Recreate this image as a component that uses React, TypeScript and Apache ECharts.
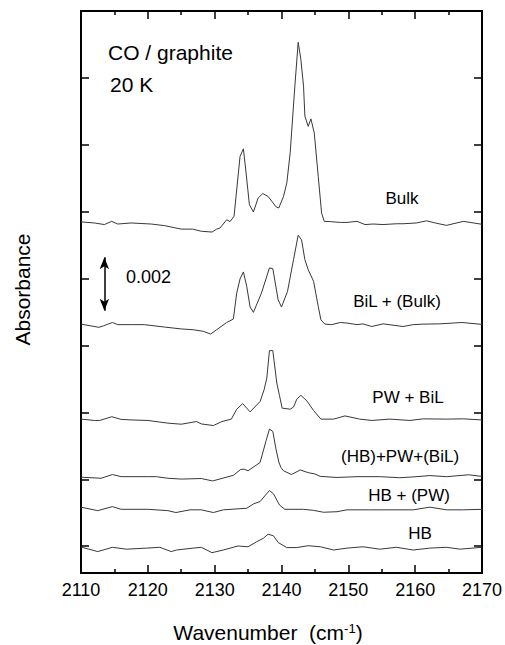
import React, { useEffect, useRef } from "react";
import * as echarts from "echarts";

const FONT = "'Liberation Sans', Arial, Helvetica, sans-serif";

// x axis: wavenumber (cm^-1); y axis: absorbance in units of 0.001 (spectra offset vertically)
const xTicks = [2110, 2120, 2130, 2140, 2150, 2160, 2170];
const yTickValues = [0, 2.5, 5, 7.5, 10, 12.5, 15, 17.5];

const bulk: [number, number][] = [
  [2110, 12.12], [2112, 12.08], [2113.5, 12.02], [2114.6, 12.14], [2115.5, 12.04], [2117.5, 12.08],
  [2120.5, 12.04], [2122.5, 11.98], [2125, 11.85], [2126.7, 11.85], [2128, 11.77], [2129.6, 11.74],
  [2130.3, 11.85], [2130.8, 11.89], [2131.8, 12.2], [2132.3, 12.13], [2132.9, 12.33], [2133.8, 14.57],
  [2134.3, 14.85], [2134.7, 13.95], [2135.2, 12.76], [2135.8, 12.49], [2136.5, 13.01], [2137.2, 13.18],
  [2138.0, 13.07], [2139.2, 12.68], [2139.6, 12.64], [2140.3, 13.07], [2140.8, 13.58], [2141.3, 14.7],
  [2142.0, 17.19], [2142.5, 18.83], [2142.9, 18.19], [2143.3, 17.19], [2143.5, 16.07], [2144.0, 15.69],
  [2144.4, 15.97], [2144.9, 15.45], [2145.5, 13.82], [2146.0, 12.45], [2146.4, 12.14], [2147.3, 12.13],
  [2148.8, 12.1], [2149.8, 12.1], [2151.3, 12.14], [2152.5, 12.02], [2153.7, 12.04], [2155.2, 12.02],
  [2157.2, 12.05], [2158.2, 12.05], [2160.2, 12.08], [2161.7, 12.16], [2163, 12.08], [2164.7, 11.99],
  [2167.2, 12.14], [2170, 12.03],
];

const bilBulk: [number, number][] = [
  [2110, 8.3], [2112.7, 8.18], [2113.4, 8.24], [2114.7, 8.36], [2115.5, 8.28], [2117.5, 8.28],
  [2119.5, 8.28], [2122.5, 8.19], [2125, 8.12], [2126.8, 8.09], [2128.3, 8.03], [2129.4, 7.93],
  [2130.3, 8.09], [2131.8, 8.36], [2132.8, 8.49], [2133.3, 9.46], [2133.8, 9.99], [2134.3, 10.25],
  [2134.8, 9.71], [2135.3, 8.94], [2135.8, 8.74], [2137.0, 9.46], [2138.2, 10.4], [2138.7, 10.37],
  [2139.5, 9.21], [2140.0, 8.94], [2140.9, 9.52], [2141.8, 10.71], [2142.5, 11.62], [2143.0, 11.45],
  [2143.5, 10.71], [2144.0, 10.33], [2144.8, 9.9], [2145.5, 8.96], [2145.9, 8.46], [2146.5, 8.3],
  [2147.5, 8.28], [2148.8, 8.36], [2149.8, 8.34], [2151.3, 8.28], [2152.2, 8.31], [2153.5, 8.21],
  [2155.2, 8.31], [2158.2, 8.21], [2159.7, 8.28], [2161.2, 8.3], [2163.7, 8.31], [2167, 8.36],
  [2170, 8.29],
];

const pwBil: [number, number][] = [
  [2110, 4.75], [2112, 4.7], [2112.8, 4.7], [2114.6, 4.84], [2116, 4.74], [2117.5, 4.72],
  [2120, 4.7], [2123, 4.6], [2125, 4.56], [2127.3, 4.66], [2128, 4.57], [2129.8, 4.51],
  [2131.1, 4.66], [2132.5, 4.75], [2133.3, 5.12], [2134.2, 5.33], [2135.3, 5.02], [2136.8, 5.41],
  [2137.4, 5.85], [2137.8, 6.28], [2138.2, 7.31], [2138.7, 7.31], [2139.3, 6.1], [2139.7, 5.63],
  [2140.1, 5.16], [2141.3, 5.12], [2141.8, 5.2], [2142.3, 5.5], [2142.9, 5.64], [2143.8, 5.43],
  [2144.8, 5.07], [2145.9, 4.75], [2147.8, 4.75], [2149.5, 4.87], [2151.7, 4.75], [2153.5, 4.7],
  [2156.2, 4.75], [2159.2, 4.7], [2161.2, 4.76], [2164.7, 4.75], [2167.2, 4.76], [2170, 4.72],
];

const hbPwBil: [number, number][] = [
  [2110, 2.58], [2113, 2.54], [2114.7, 2.68], [2116, 2.6], [2120, 2.6], [2121.3, 2.6],
  [2123, 2.54], [2125, 2.51], [2128, 2.53], [2129.7, 2.44], [2132.8, 2.65], [2133.9, 2.87],
  [2134.4, 2.88], [2135.0, 2.82], [2136.8, 3.13], [2137.7, 3.95], [2138.2, 4.38], [2138.7, 4.29],
  [2139.2, 3.6], [2139.6, 3.15], [2139.9, 2.95], [2140.3, 2.82], [2141.5, 2.68], [2142.8, 2.85],
  [2144.0, 2.75], [2145.0, 2.7], [2145.8, 2.61], [2148.3, 2.57], [2151.3, 2.6], [2154.7, 2.6],
  [2157.7, 2.56], [2159.7, 2.59], [2162.2, 2.64], [2164.7, 2.6], [2168, 2.67], [2170, 2.61],
];

const hbPw: [number, number][] = [
  [2110, 1.46], [2112.5, 1.33], [2114.7, 1.48], [2116, 1.38], [2120, 1.38], [2123, 1.33],
  [2124.2, 1.26], [2126.3, 1.36], [2128, 1.36], [2129.8, 1.26], [2131.3, 1.36], [2134.8, 1.42],
  [2135.8, 1.58], [2136.8, 1.67], [2137.5, 1.88], [2138.2, 2.08], [2138.8, 1.96], [2139.7, 1.54],
  [2140.5, 1.38], [2143.3, 1.38], [2144.8, 1.34], [2146.3, 1.27], [2148.3, 1.29], [2149.8, 1.36],
  [2153.2, 1.36], [2159.7, 1.36], [2162.2, 1.46], [2164.7, 1.36], [2167.2, 1.36], [2170, 1.38],
];

const hb: [number, number][] = [
  [2110, -0.03], [2112.5, -0.2], [2114.7, -0.04], [2116.8, -0.11], [2119.8, -0.07], [2121.8, -0.04],
  [2123.5, -0.2], [2124.3, -0.14], [2126.8, -0.07], [2128, -0.04], [2129.6, -0.24], [2131.3, -0.14],
  [2133.5, 0.01], [2135, -0.02], [2136.3, 0.17], [2137.3, 0.3], [2138.0, 0.45], [2138.8, 0.39],
  [2139.5, 0.14], [2140.8, -0.05], [2142.3, -0.05], [2144.0, 0.02], [2145.8, -0.02], [2147.8, -0.14],
  [2149.8, -0.07], [2152.2, -0.02], [2154.7, -0.11], [2157.2, -0.04], [2159.7, -0.14], [2162.2, -0.07],
  [2164.7, -0.04], [2166.7, -0.11], [2170, -0.04],
];

const seriesNames = ["Bulk", "BiL + (Bulk)", "PW + BiL", "(HB)+PW+(BiL)", "HB + (PW)", "HB"];
const seriesData = [bulk, bilBulk, pwBil, hbPwBil, hbPw, hb];

// scale bar: 0.002 absorbance = 2 units
const scaleBarX = 2113.5;
const scaleBarFrom = 8.8;
const scaleBarTo = 10.8;

export default function App() {
  const ref = useRef<HTMLDivElement>(null);
  useEffect(() => {
    if (!ref.current) return;
    const chart = echarts.init(ref.current, null, { renderer: "svg" });
    const axisCommon = {
      type: "value" as const,
      axisLine: { show: true, onZero: false, lineStyle: { color: "#000", width: 2 } },
      splitLine: { show: false },
    };
    const xCommon = {
      ...axisCommon,
      min: xTicks[0],
      max: xTicks[xTicks.length - 1],
      interval: 10,
      axisTick: { show: true, inside: true, length: 8, lineStyle: { color: "#000", width: 1.5 } },
      minorTick: { show: true, splitNumber: 2, length: 4, lineStyle: { color: "#000", width: 1.5 } },
      minorSplitLine: { show: false },
    };
    const yCommon = {
      ...axisCommon,
      min: -1,
      max: 20,
      axisTick: {
        show: true,
        inside: true,
        length: 8,
        customValues: yTickValues,
        lineStyle: { color: "#000", width: 1.5 },
      },
      axisLabel: { show: false },
    };
    const series: any[] = seriesData.map((d, i) => ({
      type: "line",
      name: seriesNames[i],
      data: d,
      symbol: "none",
      showSymbol: false,
      silent: true,
      lineStyle: { color: "#383838", width: 1 },
      xAxisIndex: 0,
      yAxisIndex: 0,
    }));
    series[0].markLine = {
      silent: true,
      symbol: ["arrow", "arrow"],
      symbolSize: [7, 12],
      label: { show: false },
      lineStyle: { color: "#000", width: 1.5, type: "solid" },
      data: [[{ coord: [scaleBarX, scaleBarFrom] }, { coord: [scaleBarX, scaleBarTo] }]],
    };
    const labelPos = [
      [402, 198],
      [397, 301],
      [408, 397],
      [400, 456],
      [409, 495],
      [420, 533],
    ];
    const graphic: any[] = seriesNames.map((n, i) => ({
      type: "text",
      x: labelPos[i][0],
      y: labelPos[i][1],
      style: { text: n, font: `17px ${FONT}`, fill: "#000", align: "center", verticalAlign: "middle" },
    }));
    graphic.push(
      { type: "text", x: 108, y: 52, style: { text: "CO / graphite", font: `21px ${FONT}`, fill: "#000", align: "left", verticalAlign: "middle" } },
      { type: "text", x: 110, y: 84, style: { text: "20 K", font: `21px ${FONT}`, fill: "#000", align: "left", verticalAlign: "middle" } },
      { type: "text", x: 126, y: 277, style: { text: "0.002", font: `18px ${FONT}`, fill: "#000", align: "left", verticalAlign: "middle" } },
      {
        type: "text",
        x: 22.5,
        y: 289.5,
        rotation: Math.PI / 2,
        style: { text: "Absorbance", font: `21px ${FONT}`, fill: "#000", align: "center", verticalAlign: "middle" },
      },
      {
        type: "text",
        x: 268,
        y: 632,
        style: {
          text: "{a|Wavenumber  (cm}{s|-1}{a|)}",
          align: "center",
          verticalAlign: "middle",
          rich: {
            a: { fontSize: 21, fontFamily: FONT, fill: "#000", verticalAlign: "bottom" },
            s: { fontSize: 13, fontFamily: FONT, fill: "#000", verticalAlign: "top" },
          },
        },
      }
    );
    chart.setOption({
      animation: false,
      grid: { left: 81, top: 11, right: 23, bottom: 72, containLabel: false },
      xAxis: [
        {
          ...xCommon,
          position: "bottom",
          axisLabel: {
            show: true,
            fontSize: 18,
            color: "#000",
            fontFamily: FONT,
            margin: 8,
            formatter: (v: number) => String(v),
          },
        },
        { ...xCommon, position: "top", axisLabel: { show: false } },
      ],
      yAxis: [
        { ...yCommon, position: "left" },
        { ...yCommon, position: "right" },
      ],
      series,
      graphic,
    });
    return () => chart.dispose();
  }, []);
  return <div ref={ref} style={{ position: "fixed", left: 0, top: 0, width: 505, height: 645, background: "#fff" }} />;
}
